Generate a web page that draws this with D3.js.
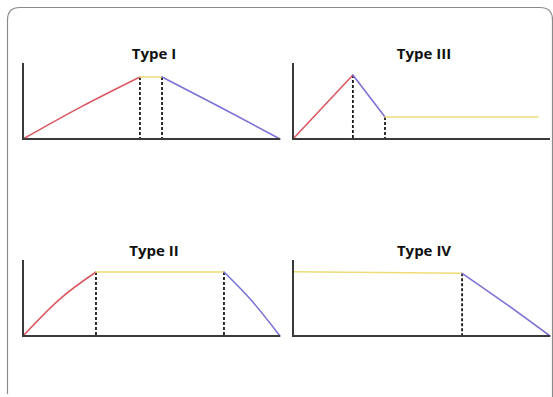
<!DOCTYPE html>
<html>
<head>
<meta charset="utf-8">
<script src="https://cdn.jsdelivr.net/npm/d3@7"></script>
<style>
  html, body { margin: 0; padding: 0; background: #fff; }
  svg { display: block; }
</style>
</head>
<body>
<svg></svg>
<script>
    "use strict";

    var svgWidth = 553, svgHeight = 397;

    // titles in drawing order: top-left, top-right, bottom-left, bottom-right
    var titles = ["Type I", "Type III", "Type II", "Type IV"];

    // curve points as [x, y] on a 0..100 scale for every panel
    var typeIRed = [[0, 0], [22.75, 42.6], [45.5, 81.6]];
    var typeIYellow = [[45.5, 81.6], [54.1, 81.6]];
    var typeIBlue = [[54.1, 81.6], [77, 41.5], [100, 0]];
    var typeIDrops = [[45.5, 81.6], [54.1, 81.6]];

    var typeIIIRed = [[0, 0], [23.3, 84.2]];
    var typeIIIBlue = [[23.3, 84.2], [35.8, 28.9]];
    var typeIIIYellow = [[35.8, 28.9], [95.3, 28.9]];
    var typeIIIDrops = [[23.3, 84.2], [35.8, 28.9]];

    var typeIIRed = [[0, 0], [14.2, 48.3], [28.4, 84.2]];
    var typeIIYellow = [[28.4, 84.2], [78.2, 84.2]];
    var typeIIBlue = [[78.2, 84.2], [89.1, 46], [100, 0]];
    var typeIIDrops = [[28.4, 84.2], [78.2, 84.2]];

    var typeIVYellow = [[0, 84.6], [65.8, 82.5]];
    var typeIVBlue = [[65.8, 82.5], [82.9, 42.2], [100, 0]];
    var typeIVDrops = [[65.8, 82.5]];

    var red = "#d95a62", yellow = "#eedd77", blue = "#7b72d6";

    var svg = d3.select("svg")
        .attr("width", svgWidth)
        .attr("height", svgHeight);

    // card outline (bottom edge fades out in the picture, so leave it open)
    svg.append("path")
        .attr("d", "M7.5,394 L7.5,20 Q7.5,7.5 20,7.5 L540,7.5 Q552.5,7.5 552.5,20 L552.5,397")
        .attr("fill", "none")
        .attr("stroke", "#8a8a8a")
        .attr("stroke-width", 1.2);

    var xLeft = [23, 280], xRight = [293, 550];
    var yTop = [139, 63], yBottom = [336, 260];

    function drawPanel(title, xr, yr, segments, drops) {
        var x = d3.scaleLinear().domain([0, 100]).range(xr);
        var y = d3.scaleLinear().domain([0, 100]).range(yr);
        var g = svg.append("g");

        var line = d3.line()
            .x(function(d) { return x(d[0]); })
            .y(function(d) { return y(d[1]); })
            .curve(d3.curveNatural);

        drops.forEach(function(d) {
            g.append("line")
                .attr("x1", x(d[0])).attr("x2", x(d[0]))
                .attr("y1", y(d[1])).attr("y2", y(0))
                .attr("stroke", "#1a1a1a")
                .attr("stroke-width", 1.8)
                .attr("stroke-dasharray", "3,2");
        });

        segments.forEach(function(s) {
            g.append("path")
                .datum(s[0])
                .attr("fill", "none")
                .attr("stroke", s[1])
                .attr("stroke-width", 1.6)
                .attr("stroke-linecap", "round")
                .attr("d", line);
        });

        // axes: plain lines, no ticks
        g.append("line")
            .attr("x1", x(0)).attr("x2", x(0))
            .attr("y1", y(100)).attr("y2", y(0))
            .attr("stroke", "#3a3a3a").attr("stroke-width", 2);
        g.append("line")
            .attr("x1", x(0) - 1).attr("x2", x(100))
            .attr("y1", y(0)).attr("y2", y(0))
            .attr("stroke", "#3a3a3a").attr("stroke-width", 2);

        g.append("text")
            .attr("x", (xr[0] + xr[1]) / 2 + 2.5)
            .attr("y", yr[1] - 4)
            .attr("text-anchor", "middle")
            .attr("font-family", "'Open Sans', sans-serif")
            .attr("font-weight", "bold")
            .attr("font-size", "15px")
            .attr("fill", "#111")
            .text(title);
    }

    drawPanel(titles[0], xLeft, yTop,
        [[typeIRed, red], [typeIYellow, yellow], [typeIBlue, blue]], typeIDrops);
    drawPanel(titles[1], xRight, yTop,
        [[typeIIIRed, red], [typeIIIBlue, blue], [typeIIIYellow, yellow]], typeIIIDrops);
    drawPanel(titles[2], xLeft, yBottom,
        [[typeIIRed, red], [typeIIYellow, yellow], [typeIIBlue, blue]], typeIIDrops);
    drawPanel(titles[3], xRight, yBottom,
        [[typeIVYellow, yellow], [typeIVBlue, blue]], typeIVDrops);
</script>
</body>
</html>
